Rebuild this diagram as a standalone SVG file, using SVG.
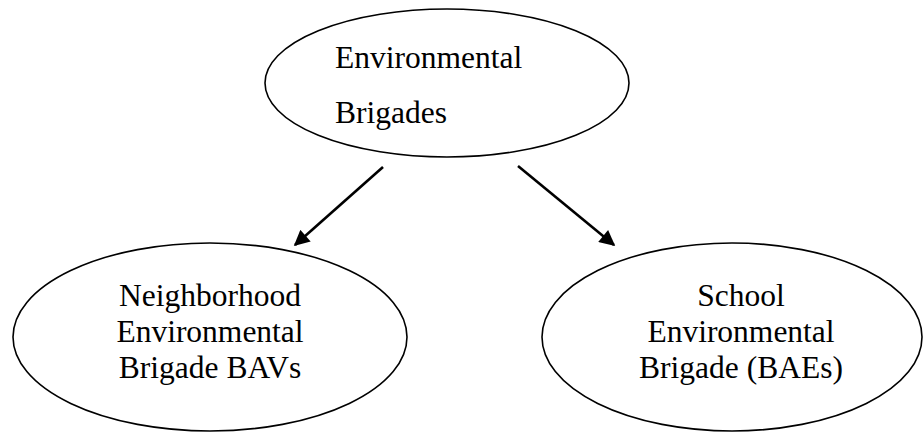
<svg xmlns="http://www.w3.org/2000/svg" width="924" height="433" viewBox="0 0 924 433">
<defs>
<style>
.node ellipse{fill:#fff;stroke:#000;stroke-width:1.6}
.lbl{font-family:"Liberation Serif","Times New Roman",serif;font-size:31.5px;fill:#000}
.mid{text-anchor:middle}
.edge{stroke:#000;stroke-width:2.6;fill:none;marker-end:url(#ah)}
</style>
<marker id="ah" viewBox="0 0 10 10" refX="9" refY="5" markerWidth="6.5" markerHeight="6" markerUnits="strokeWidth" orient="auto">
<path d="M0,0 L10,5 L0,10 z" fill="#000"/>
</marker>
</defs>
<rect width="924" height="433" fill="#fff"/>
<g id="connectors">
<line class="edge" x1="383" y1="167" x2="295" y2="245"/>
<line class="edge" x1="518" y1="166" x2="614" y2="245"/>
</g>
<g id="node-top" class="node">
<ellipse cx="447" cy="83" rx="182" ry="74"/>
<text class="lbl" x="335" y="68">Environmental</text>
<text class="lbl" x="335" y="123">Brigades</text>
</g>
<g id="node-left" class="node">
<ellipse cx="210" cy="337" rx="197" ry="94"/>
<text class="lbl mid" x="210" y="306">Neighborhood</text>
<text class="lbl mid" x="210" y="342">Environmental</text>
<text class="lbl mid" x="210" y="378">Brigade BAVs</text>
</g>
<g id="node-right" class="node">
<ellipse cx="732" cy="337" rx="190" ry="94"/>
<text class="lbl mid" x="741" y="306">School</text>
<text class="lbl mid" x="741" y="342">Environmental</text>
<text class="lbl mid" x="741" y="378">Brigade (BAEs)</text>
</g>
</svg>
